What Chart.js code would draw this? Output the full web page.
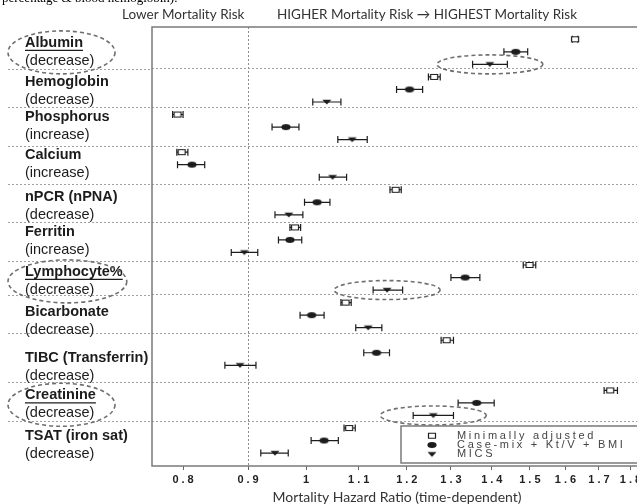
<!DOCTYPE html>
<html>
<head>
<meta charset="utf-8">
<script src="https://cdn.jsdelivr.net/npm/chart.js@4.4.1/dist/chart.umd.min.js"></script>
<style>
  html, body { margin: 0; padding: 0; background: #fff; overflow: hidden; width: 637px; height: 504px; }
  #wrap { position: relative; width: 690px; height: 504px; }
  canvas { display: block; }
</style>
</head>
<body>
<div id="wrap"><canvas id="c" width="690" height="504"></canvas></div>
<script>
// ---- data -------------------------------------------------------------
const groups = ['Albumin', 'Hemoglobin', 'Phosphorus', 'Calcium', 'nPCR (nPNA)', 'Ferritin',
  'Lymphocyte%', 'Bicarbonate', 'TIBC (Transferrin)', 'Creatinine', 'TSAT (iron sat)'];
const directions = ['(decrease)', '(decrease)', '(increase)', '(increase)', '(decrease)', '(increase)',
  '(decrease)', '(decrease)', '(decrease)', '(decrease)', '(decrease)'];
const highlighted = ['Albumin', 'Lymphocyte%', 'Creatinine'];
const seriesNames = ['Minimally adjusted', 'Case-mix + Kt/V + BMI', 'MICS'];

// hazard ratios with 95% CI, one entry per group
const minimalHR = [1.628, 1.261, 0.792, 0.798, 1.176, 0.980, 1.499, 1.074, 1.290, 1.735, 1.081];
const minimalLo = [1.620, 1.248, 0.785, 0.791, 1.164, 0.971, 1.482, 1.065, 1.277, 1.716, 1.071];
const minimalHi = [1.636, 1.275, 0.800, 0.807, 1.188, 0.990, 1.516, 1.085, 1.306, 1.758, 1.093];

const caseMixHR = [1.462, 1.206, 0.964, 0.813, 1.020, 0.971, 1.334, 1.010, 1.136, 1.362, 1.033];
const caseMixLo = [1.431, 1.178, 0.940, 0.792, 0.997, 0.951, 1.300, 0.989, 1.110, 1.317, 1.009];
const caseMixHi = [1.494, 1.235, 0.987, 0.832, 1.044, 0.992, 1.370, 1.033, 1.163, 1.406, 1.060];

const micsHR = [1.395, 1.038, 1.087, 1.049, 0.969, 0.894, 1.158, 1.119, 0.887, 1.259, 0.945];
const micsLo = [1.352, 1.012, 1.059, 1.024, 0.945, 0.873, 1.129, 1.094, 0.863, 1.214, 0.921];
const micsHi = [1.440, 1.065, 1.117, 1.076, 0.994, 0.916, 1.191, 1.147, 0.913, 1.306, 0.968];

const hrTicks = [0.8, 0.9, 1, 1.1, 1.2, 1.3, 1.4, 1.5, 1.6, 1.7, 1.8];
const referenceHR = 0.9;

// ---- layout helpers ---------------------------------------------------
// three rows per group; one spare row is left open before Creatinine
const rowIndex = groups.map((_, i) => i * 3 + (i >= 9 ? 1 : 0));
const dividerRows = [2.35, 5.43, 8.52, 11.56, 14.6, 17.7, 20.37, 23.45, 27.36, 30.48];
const labelNudge = [3.6, 4.6, 2.1, 3.3, 7.5, 4.7, 6.9, 9.1, 17.3, 4.9, 8.1];

const INK = '#1c1c1c';
const SANS = '"Liberation Sans", Arial, sans-serif';
const HEAD = 'Lato, "Open Sans", sans-serif';

function makeMarker(draw) {
  const c = document.createElement('canvas');
  c.width = 12; c.height = 8;
  draw(c.getContext('2d'));
  return c;
}
const markers = [
  makeMarker(g => { g.fillStyle = '#fff'; g.strokeStyle = INK; g.lineWidth = 1.2;
    g.beginPath(); g.rect(2.5, 1.5, 7, 5); g.fill(); g.stroke(); }),
  makeMarker(g => { g.fillStyle = INK; g.beginPath(); g.ellipse(6, 4, 4.6, 3, 0, 0, Math.PI * 2); g.fill(); }),
  makeMarker(g => { g.fillStyle = INK; g.beginPath(); g.moveTo(1.5, 1.8); g.lineTo(10.5, 1.8); g.lineTo(6, 6.6);
    g.closePath(); g.fill(); })
];

function points(hr, lo, hi, offset) {
  return hr.map((v, i) => ({ x: v, y: rowIndex[i] + offset, lo: lo[i], hi: hi[i] }));
}

// confidence-interval whiskers, drawn under the markers
const errorBars = {
  id: 'errorBars',
  beforeDatasetsDraw(chart) {
    const { ctx, scales: { x, y } } = chart;
    ctx.save();
    ctx.strokeStyle = INK;
    ctx.lineWidth = 1.2;
    chart.data.datasets.forEach(ds => ds.data.forEach(p => {
      const x1 = x.getPixelForValue(p.lo), x2 = x.getPixelForValue(p.hi);
      const yy = y.getPixelForValue(p.y);
      ctx.beginPath();
      ctx.moveTo(x1, yy); ctx.lineTo(x2, yy);
      ctx.moveTo(x1, yy - 3.5); ctx.lineTo(x1, yy + 3.5);
      ctx.moveTo(x2, yy - 3.5); ctx.lineTo(x2, yy + 3.5);
      ctx.stroke();
    }));
    ctx.restore();
  }
};

function dashedEllipse(ctx, cx, cy, rx, ry) {
  ctx.save();
  ctx.strokeStyle = '#6f6f6f';
  ctx.lineWidth = 1.6;
  ctx.setLineDash([4, 3]);
  ctx.beginPath();
  ctx.ellipse(cx, cy, rx, ry, 0, 0, Math.PI * 2);
  ctx.stroke();
  ctx.restore();
}

function spacedText(ctx, text, cx, cy, spacing) {
  ctx.letterSpacing = spacing + 'px';
  const w = ctx.measureText(text).width - spacing;
  ctx.textAlign = 'left';
  ctx.fillText(text, cx - w / 2, cy);
  ctx.letterSpacing = '0px';
}

const decorations = {
  id: 'decorations',
  afterDraw(chart) {
    const { ctx, chartArea: a, scales: { x, y } } = chart;
    ctx.save();

    // plot frame
    ctx.strokeStyle = '#7a7a7a';
    ctx.lineWidth = 1.5;
    ctx.strokeRect(a.left, a.top, a.right - a.left, a.bottom - a.top);

    // group dividers continue under the row labels
    ctx.strokeStyle = '#a0a0a0';
    ctx.lineWidth = 1;
    ctx.setLineDash([2, 2]);
    dividerRows.forEach(r => {
      const yy = Math.round(y.getPixelForValue(r)) + 0.5;
      ctx.beginPath(); ctx.moveTo(8, yy); ctx.lineTo(a.left, yy); ctx.stroke();
    });
    ctx.setLineDash([]);

    // row labels
    ctx.fillStyle = INK;
    ctx.textBaseline = 'middle';
    ctx.textAlign = 'left';
    groups.forEach((name, i) => {
      const ny = y.getPixelForValue(rowIndex[i]) + labelNudge[i];
      ctx.font = 'bold 14.5px ' + SANS;
      ctx.fillText(name, 25, ny);
      const w = ctx.measureText(name).width;
      ctx.font = '14.5px ' + SANS;
      ctx.fillText(directions[i], 25, ny + 18);
      if (highlighted.includes(name)) {
        ctx.strokeStyle = INK; ctx.lineWidth = 1.2;
        ctx.beginPath(); ctx.moveTo(25, ny + 7.5); ctx.lineTo(25 + w, ny + 7.5); ctx.stroke();
        const right = Math.max(115, 25 + w + 4);
        dashedEllipse(ctx, (8 + right) / 2, ny + 9.5, (right - 8) / 2, 21.5);
        // matching ring round the fully adjusted estimate
        dashedEllipse(ctx, x.getPixelForValue(micsHR[i]), y.getPixelForValue(rowIndex[i] + 2), 53, 9.5);
      }
    });

    // axis tick labels (widely spaced digits)
    ctx.fillStyle = '#222';
    ctx.font = 'bold 11px ' + SANS;
    hrTicks.forEach(v => spacedText(ctx, String(v), x.getPixelForValue(v), 480, 3));

    // axis title
    ctx.fillStyle = '#333';
    ctx.font = '14px ' + HEAD;
    ctx.textAlign = 'center';
    ctx.fillText('Mortality Hazard Ratio (time-dependent)', 397, 497);

    // header over the plot
    ctx.textAlign = 'left';
    ctx.font = '13.5px ' + HEAD;
    ctx.fillText('Lower Mortality Risk', 122, 15);
    ctx.fillText('HIGHER Mortality Risk \u2192 HIGHEST Mortality Risk', 277, 15);

    // caption line above (runs off the top edge)
    ctx.fillStyle = '#000';
    ctx.font = '13px "Liberation Serif", "Times New Roman", serif';
    ctx.textBaseline = 'alphabetic';
    ctx.fillText('percentage & blood hemoglobin).', 2, 2);

    // legend box
    ctx.fillStyle = '#fff';
    ctx.strokeStyle = '#7a7a7a';
    ctx.lineWidth = 1.5;
    ctx.fillRect(401, 426, 320, 37);
    ctx.strokeRect(401, 426, 320, 37);
    ctx.font = '11px ' + SANS;
    ctx.fillStyle = '#444';
    ctx.textBaseline = 'middle';
    seriesNames.forEach((s, i) => {
      const ly = 435.7 + i * 9.3;
      ctx.drawImage(markers[i], 432 - 6, ly - 4);
      ctx.letterSpacing = '2.7px';
      ctx.fillText(s, 457, ly);
      ctx.letterSpacing = '0px';
    });
    ctx.restore();
  }
};

Chart.defaults.font.family = SANS;

new Chart(document.getElementById('c'), {
  type: 'scatter',
  data: {
    datasets: [
      { label: seriesNames[0], data: points(minimalHR, minimalLo, minimalHi, 0), pointStyle: markers[0], pointRadius: 4 },
      { label: seriesNames[1], data: points(caseMixHR, caseMixLo, caseMixHi, 1), pointStyle: markers[1], pointRadius: 4 },
      { label: seriesNames[2], data: points(micsHR, micsLo, micsHi, 2), pointStyle: markers[2], pointRadius: 4 }
    ]
  },
  options: {
    responsive: false,
    animation: false,
    events: [],
    layout: { padding: { left: 152, top: 27, right: 10, bottom: 16.8 } },
    plugins: { legend: { display: false }, tooltip: { enabled: false } },
    scales: {
      x: {
        type: 'logarithmic',
        min: 0.7562,
        max: 1.969,
        afterBuildTicks: s => { s.ticks = hrTicks.map(v => ({ value: v })); },
        ticks: {
          autoSkip: false, maxRotation: 0, padding: 2,
          color: 'rgba(0,0,0,0)',
          font: { size: 11, weight: 'bold' },
          callback: v => String(v)
        },
        grid: {
          color: c => (c.tick && c.tick.value === referenceHR) ? '#8a8a8a' : 'rgba(0,0,0,0)',
          tickColor: '#666', tickLength: 4, lineWidth: 1
        },
        border: { display: false, dash: [2, 2] }
      },
      y: {
        type: 'linear',
        reverse: true,
        min: -0.98,
        max: 34.03,
        afterBuildTicks: s => { s.ticks = dividerRows.map(v => ({ value: v })); },
        ticks: { display: false },
        grid: { color: '#a0a0a0', drawTicks: false, lineWidth: 1 },
        border: { display: false, dash: [2, 2] }
      }
    }
  },
  plugins: [errorBars, decorations]
});
</script>
</body>
</html>
